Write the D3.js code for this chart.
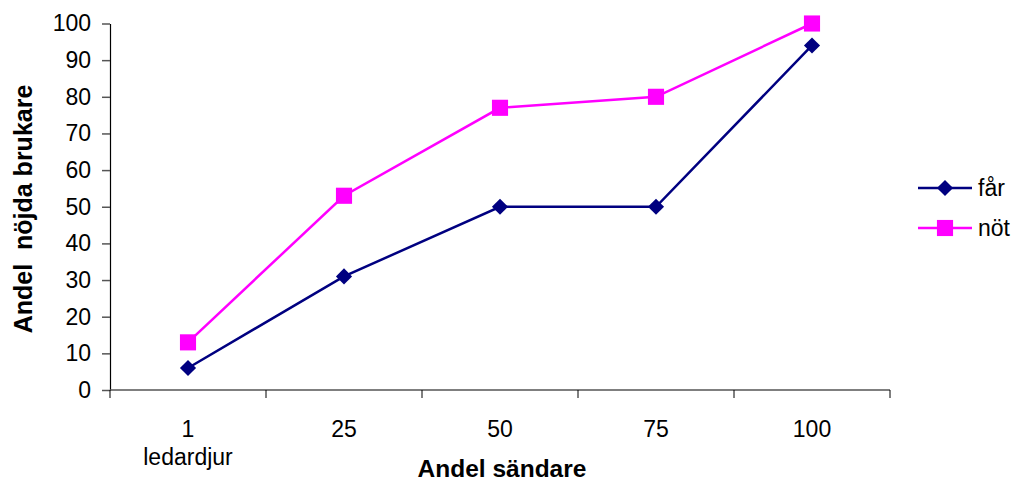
<!DOCTYPE html>
<html lang="sv">
<head>
<meta charset="UTF-8">
<title>Andel nöjda brukare</title>
<script src="https://cdn.jsdelivr.net/npm/d3@7"></script>
<style>
  body { margin: 0; background: #fff; }
  svg { font-family: "Liberation Sans", Arial, sans-serif; }
</style>
</head>
<body>
<svg id="chart" width="1016" height="481"></svg>
<script>
// data
var categories = ["1", "25", "50", "75", "100"];
var subLabels = ["ledardjur", "", "", "", ""];
var farValues = [6, 31, 50, 50, 94];
var notValues = [13, 53, 77, 80, 100];
var yTicks = [0, 10, 20, 30, 40, 50, 60, 70, 80, 90, 100];

// diamond = square turned 45 degrees
var series = [
  { name: "får", values: farValues, color: "#000080", symbol: d3.symbolSquare, size: 130, rot: 45 },
  { name: "nöt", values: notValues, color: "#FF00FF", symbol: d3.symbolSquare, size: 260, rot: 0 }
];

var svg = d3.select("#chart");
var plotLeft = 110, plotRight = 890, plotTop = 23.5, plotBottom = 390;

var x = d3.scaleBand().domain(categories).range([plotLeft, plotRight]);
var y = d3.scaleLinear().domain([0, 100]).range([plotBottom, plotTop]);
var cx = function (c) { return x(c) + x.bandwidth() / 2; };

// y axis
var yAxis = svg.append("g")
  .attr("transform", "translate(" + plotLeft + ",0)")
  .call(d3.axisLeft(y).tickValues(yTicks).tickSize(8).tickPadding(11).tickSizeOuter(0));
yAxis.select(".domain").attr("stroke", "#000").attr("stroke-width", 1.2);
yAxis.selectAll(".tick line").attr("stroke", "#555").attr("stroke-width", 1.5);
yAxis.selectAll("text").attr("font-size", 23).attr("fill", "#000")
  .attr("font-family", "Liberation Sans, Arial, sans-serif");

// x axis: line with ticks between categories
var xg = svg.append("g");
xg.append("line")
  .attr("x1", plotLeft).attr("x2", plotRight).attr("y1", plotBottom).attr("y2", plotBottom)
  .attr("stroke", "#555").attr("stroke-width", 1.5);
var edges = categories.map(function (c) { return x(c); }).concat([plotRight]);
xg.selectAll(".xt").data(edges).enter().append("line")
  .attr("x1", function (d) { return d; }).attr("x2", function (d) { return d; })
  .attr("y1", plotBottom).attr("y2", plotBottom + 8)
  .attr("stroke", "#000").attr("stroke-width", 1);
xg.selectAll(".xl").data(categories).enter().append("text")
  .attr("x", cx)
  .attr("y", 437)
  .attr("text-anchor", "middle").attr("font-size", 23)
  .text(function (d) { return d; });
xg.selectAll(".xs").data(subLabels).enter().append("text")
  .attr("x", function (d, i) { return cx(categories[i]); })
  .attr("y", 465)
  .attr("text-anchor", "middle").attr("font-size", 23)
  .text(function (d) { return d; });

// axis titles
svg.append("text")
  .attr("x", 502).attr("y", 477)
  .attr("text-anchor", "middle").attr("font-size", 24.5).attr("font-weight", "bold")
  .text("Andel sändare");
svg.append("text")
  .attr("transform", "translate(32,209) rotate(-90)")
  .attr("text-anchor", "middle").attr("font-size", 25).attr("font-weight", "bold")
  .style("white-space", "pre")
  .text("Andel  nöjda brukare");

// lines and markers
var line = d3.line()
  .x(function (d, i) { return cx(categories[i]); })
  .y(function (d) { return y(d); });

series.forEach(function (s) {
  svg.append("path")
    .attr("d", line(s.values))
    .attr("fill", "none")
    .attr("stroke", s.color)
    .attr("stroke-width", 2.5);
  svg.selectAll(null).data(s.values).enter().append("path")
    .attr("d", d3.symbol().type(s.symbol).size(s.size))
    .attr("transform", function (d, i) {
      return "translate(" + cx(categories[i]) + "," + y(d) + ") rotate(" + s.rot + ")";
    })
    .attr("fill", s.color);
});

// legend
var legend = svg.append("g");
series.forEach(function (s, i) {
  var ly = 188 + i * 40;
  legend.append("line")
    .attr("x1", 918).attr("x2", 972).attr("y1", ly).attr("y2", ly)
    .attr("stroke", s.color).attr("stroke-width", 2.5);
  legend.append("path")
    .attr("d", d3.symbol().type(s.symbol).size(s.size))
    .attr("transform", "translate(945," + ly + ") rotate(" + s.rot + ")")
    .attr("fill", s.color);
  legend.append("text")
    .attr("x", 978).attr("y", ly + 8)
    .attr("font-size", 23)
    .text(s.name);
});
</script>
</body>
</html>
